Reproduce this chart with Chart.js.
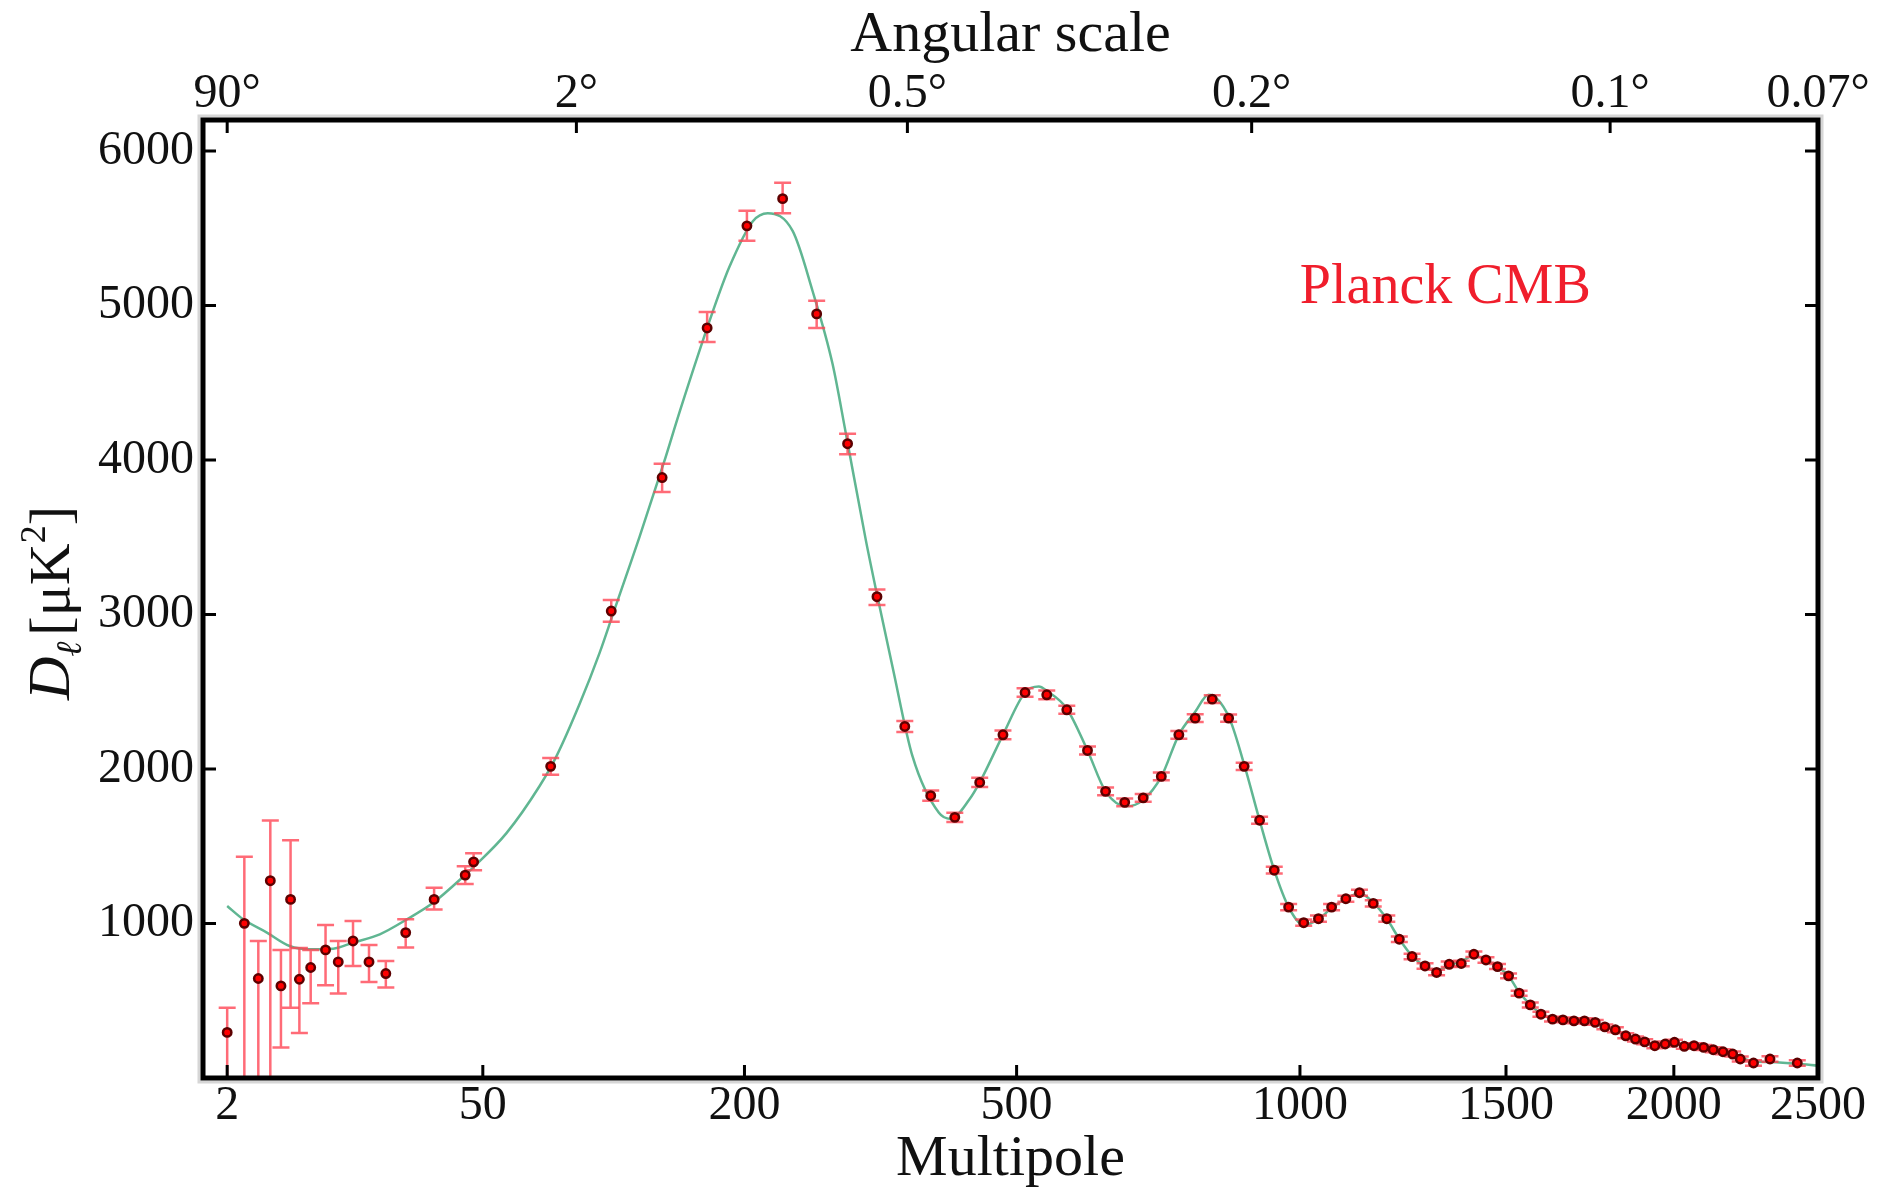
<!DOCTYPE html>
<html>
<head>
<meta charset="utf-8">
<title>Planck CMB</title>
<script src="https://cdn.jsdelivr.net/npm/chart.js@4.4.1/dist/chart.umd.min.js"></script>
<style>
    body { margin: 0; background: #fff; }
    canvas { display: block; }
</style>
</head>
<body>
<canvas id="myChart" width="1879" height="1198"></canvas>
<script>
// binned Planck points: multipole, D_l and the error bar above / below
var ell = [2, 3, 4, 5, 6, 7, 8, 9.4, 11.45, 13.4, 15.9, 18.9, 22.4, 27, 34.5, 44, 46.8, 77.6,
    108.6, 139.6, 171, 202, 232.5, 264, 294.7, 325.8, 357, 387.6, 417.4, 449.6, 481, 512, 543.6,
    573.8, 606, 635, 666.6, 698, 729.6, 761, 791, 823, 854.5, 885, 916, 946, 976, 1008, 1040,
    1069, 1101, 1132, 1164, 1196, 1226, 1257, 1289, 1318, 1350, 1381, 1414, 1446, 1477, 1507,
    1536, 1567, 1597, 1630, 1660, 1692, 1723, 1755, 1784, 1816, 1848, 1878, 1907, 1939, 1972,
    2002, 2034, 2066, 2098, 2130, 2163, 2196, 2222, 2268, 2326, 2424];
var dl = [295, 1001, 644, 1277, 596, 1156, 639, 715, 829, 751, 887, 751, 676, 941, 1156, 1313, 1399, 2017,
    3022, 3886, 4854, 5515, 5691, 4945, 4105, 3115, 2275, 1827, 1687, 1913, 2221, 2495, 2480,
    2383, 2120, 1855, 1784, 1813, 1952, 2221, 2329, 2452, 2329, 2017, 1668, 1345, 1106, 1005, 1031,
    1106, 1160, 1199, 1130, 1031, 898, 786, 725, 683, 736, 741, 801, 764, 721, 661,
    549, 473, 413, 381, 376, 370, 370, 360, 331, 312, 273, 252, 234, 209, 220,
    231, 205, 209, 198, 183, 170, 155, 123, 97, 123, 97];
var errUp = [159, 431, 243, 389, 233, 383, 202, 114, 161, 136, 129, 110, 81, 86, 75, 58, 56, 54,
    71, 90, 103, 97, 103, 85, 65, 47, 36, 33, 30, 30, 28, 28, 28,
    26, 26, 25, 25, 25, 25, 25, 25, 25, 24, 24, 22, 22, 20, 20, 20,
    20, 20, 20, 20, 20, 18, 18, 18, 18, 18, 18, 18, 18, 16, 16,
    16, 16, 16, 16, 16, 16, 16, 16, 16, 16, 16, 16, 16, 16, 16,
    16, 16, 16, 16, 16, 16, 16, 16, 18, 18, 18];
var errDown = [900, 1500, 1000, 1600, 398, 702, 348, 231, 228, 204, 162, 129, 90, 97, 65, 58, 54, 54,
    69, 93, 90, 97, 94, 91, 69, 54, 36, 33, 30, 30, 28, 28, 28,
    26, 26, 25, 25, 25, 25, 25, 25, 25, 24, 24, 22, 22, 20, 20, 20,
    20, 20, 20, 20, 20, 18, 18, 18, 18, 18, 18, 18, 18, 16, 16,
    16, 16, 16, 16, 16, 16, 16, 16, 16, 16, 16, 16, 16, 16, 16,
    16, 16, 16, 16, 16, 16, 16, 16, 18, 18, 18];

// best fit model curve
var modelEll = [2, 2.93, 4.7, 6.9, 9.2, 12.6, 15.9, 21.1, 27.3, 34.2, 44.3, 46.6, 58.8, 72.6, 80.2,
    91.6, 102.1, 109.5, 117.2, 125.2, 141, 151.3, 175.2, 188, 206.9, 219.5, 241.5, 260, 279.5, 293, 313.8,
    325.8, 343, 366, 397.6, 412, 436, 449.6, 481, 512, 532, 543.6, 573.8, 606, 635, 670, 698, 729.6,
    761, 791, 816, 854.5, 885, 916, 946, 976, 1008, 1041, 1069, 1101, 1132, 1164, 1196, 1226, 1257,
    1289, 1318, 1350, 1381, 1414, 1446, 1477, 1507, 1536, 1567, 1597, 1630, 1660, 1692, 1723, 1755,
    1784, 1816, 1848, 1878, 1907, 1939, 1972, 2002, 2034, 2066, 2098, 2130, 2163, 2196, 2222, 2268,
    2326, 2424, 2500];
var modelDl = [1113, 1027, 941, 854, 833, 837, 876, 930, 1027, 1134, 1320, 1362, 1585, 1890, 2080,
    2420, 2750, 3000, 3250, 3500, 3990, 4310, 4960, 5250, 5545, 5597, 5482, 5095, 4622, 4170, 3481,
    3130, 2662, 2081, 1716, 1677, 1802, 1913, 2221, 2495, 2533, 2505, 2390, 2120, 1855, 1758, 1800, 1950,
    2221, 2370, 2480, 2340, 2030, 1668, 1345, 1106, 990, 1030, 1100, 1160, 1195, 1135, 1030, 900, 790,
    722, 695, 730, 755, 792, 765, 720, 660, 555, 475, 415, 383, 372, 368, 366, 356,
    333, 310, 275, 252, 232, 216, 218, 224, 210, 205, 195, 182, 168, 150, 132, 108,
    103, 92, 80];

var xTicks = [2, 50, 200, 500, 1000, 1500, 2000, 2500];
var xTickLabels = ['2', '50', '200', '500', '1000', '1500', '2000', '2500'];
var topTicks = [2, 90, 360, 900, 1800, 2500];
var topTickLabels = ['90°', '2°', '0.5°', '0.2°', '0.1°', '0.07°'];
var yTicks = [1000, 2000, 3000, 4000, 5000, 6000];

var labelText = 'Planck CMB';
var labelEll = 1340;
var labelDl = 5110;

var P = 0.4;
var serif = "'Liberation Serif', 'Times New Roman', serif";
var ink = '#111';

// x axis runs as ell^0.4
class PowerScale extends Chart.LinearScale {
    static id = 'power';
    static defaults = {};
    getPixelForValue(v) {
        var a = Math.pow(this.min, P), b = Math.pow(this.max, P);
        return this.getPixelForDecimal((Math.pow(v, P) - a) / (b - a));
    }
    getValueForPixel(px) {
        var a = Math.pow(this.min, P), b = Math.pow(this.max, P);
        return Math.pow(a + this.getDecimalForPixel(px) * (b - a), 1 / P);
    }
}
Chart.register(PowerScale);

var errorBars = {
    id: 'errorBars',
    beforeDatasetDraw(chart, args) {
        if (args.index !== 0) return;
        var ctx = chart.ctx, a = chart.chartArea, x = chart.scales.x, y = chart.scales.y;
        ctx.save();
        ctx.beginPath();
        ctx.rect(a.left, a.top, a.right - a.left, a.bottom - a.top);
        ctx.clip();
        ctx.strokeStyle = 'rgba(255, 70, 85, 0.8)';
        ctx.lineWidth = 2.5;
        for (let i = 0; i < ell.length; i++) {
            let px = x.getPixelForValue(ell[i]);
            let top = y.getPixelForValue(dl[i] + errUp[i]);
            let bot = y.getPixelForValue(dl[i] - errDown[i]);
            ctx.beginPath();
            ctx.moveTo(px, top); ctx.lineTo(px, bot);
            ctx.moveTo(px - 8.5, top); ctx.lineTo(px + 8.5, top);
            ctx.moveTo(px - 8.5, bot); ctx.lineTo(px + 8.5, bot);
            ctx.stroke();
        }
        ctx.restore();
    }
};

var frame = {
    id: 'frame',
    afterDatasetsDraw(chart) {
        var ctx = chart.ctx, a = chart.chartArea, s = chart.scales;
        var w = a.right - a.left, h = a.bottom - a.top, len = 13;
        ctx.save();
        ctx.strokeStyle = '#d6d6d6';
        ctx.lineWidth = 3;
        ctx.strokeRect(a.left - 4, a.top - 4, w + 8, h + 8);
        ctx.strokeStyle = '#000';
        ctx.lineWidth = 5;
        ctx.strokeRect(a.left, a.top, w, h);
        ctx.lineWidth = 3;
        ctx.beginPath();
        s.x.ticks.forEach(function (t) {
            var px = s.x.getPixelForValue(t.value);
            ctx.moveTo(px, a.bottom); ctx.lineTo(px, a.bottom - len);
        });
        s.top.ticks.forEach(function (t) {
            var px = s.top.getPixelForValue(t.value);
            ctx.moveTo(px, a.top); ctx.lineTo(px, a.top + len);
        });
        s.y.ticks.forEach(function (t) {
            var py = s.y.getPixelForValue(t.value);
            ctx.moveTo(a.left, py); ctx.lineTo(a.left + len, py);
            ctx.moveTo(a.right, py); ctx.lineTo(a.right - len, py);
        });
        ctx.stroke();
        ctx.restore();
    },
    afterDraw(chart) {
        var ctx = chart.ctx, a = chart.chartArea;
        ctx.save();
        // Planck CMB label
        ctx.fillStyle = '#f01e2c';
        ctx.font = '56px ' + serif;
        ctx.textAlign = 'center';
        ctx.textBaseline = 'middle';
        ctx.fillText(labelText, chart.scales.x.getPixelForValue(labelEll), chart.scales.y.getPixelForValue(labelDl));

        // y title: D_l [muK^2], rotated
        var parts = [
            { t: 'D', f: 'italic 60px ' + serif, dy: 0 },
            { t: 'ℓ', f: 'italic 36px ' + serif, dy: 12 },
            { t: '[μK', f: '58px ' + serif, dy: 0 },
            { t: '2', f: '36px ' + serif, dy: -24 },
            { t: ']', f: '58px ' + serif, dy: 0 }
        ];
        var total = 0;
        parts.forEach(function (p) { ctx.font = p.f; p.w = ctx.measureText(p.t).width + (p.t === 'ℓ' ? 6 : 0); total += p.w; });
        ctx.translate(69, (a.top + a.bottom) / 2 + 4);
        ctx.rotate(-Math.PI / 2);
        ctx.fillStyle = ink;
        ctx.textAlign = 'left';
        ctx.textBaseline = 'alphabetic';
        var cx = -total / 2;
        parts.forEach(function (p) {
            ctx.font = p.f;
            ctx.fillText(p.t, cx, p.dy);
            cx += p.w;
        });
        ctx.restore();
    }
};

var tickFont = { family: serif, size: 48 };
var titleFont = { family: serif, size: 58 };

var points = ell.map(function (l, i) { return { x: l, y: dl[i] }; });
var model = modelEll.map(function (l, i) { return { x: l, y: modelDl[i] }; });

window.addEventListener('load', function () {
    var ctx = document.getElementById('myChart').getContext('2d');
    new Chart(ctx, {
        type: 'scatter',
        data: {
            datasets: [{
                label: 'Planck',
                data: points,
                pointRadius: 4.2,
                pointBackgroundColor: '#ff0000',
                pointBorderColor: '#5c0000',
                pointBorderWidth: 2.5,
                showLine: false
            }, {
                label: 'model',
                data: model,
                showLine: true,
                pointRadius: 0,
                borderColor: 'rgb(96, 182, 146)',
                borderWidth: 2.5,
                cubicInterpolationMode: 'monotone',
                fill: false
            }]
        },
        options: {
            responsive: false,
            animation: false,
            devicePixelRatio: 1,
            events: [],
            layout: { padding: { left: 0, right: 61, top: 0, bottom: 0 } },
            plugins: { legend: { display: false }, tooltip: { enabled: false } },
            scales: {
                x: {
                    type: 'power', axis: 'x', position: 'bottom', min: 0.98, max: 2500, bounds: 'data',
                    grid: { display: false, drawTicks: false }, border: { display: false },
                    afterBuildTicks: function (s) { s.ticks = xTicks.map(function (v) { return { value: v }; }); },
                    afterFit: function (s) { s.height = 120; s.paddingLeft = 0; s.paddingRight = 0; },
                    ticks: {
                        autoSkip: false, maxRotation: 0, padding: 0, color: ink, font: tickFont,
                        callback: function (v, i) { return xTickLabels[i]; }
                    },
                    title: { display: true, text: 'Multipole', color: ink, font: titleFont, padding: { top: 0, bottom: 3 } }
                },
                top: {
                    type: 'power', axis: 'x', position: 'top', min: 0.98, max: 2500, bounds: 'data',
                    grid: { display: false, drawTicks: false }, border: { display: false },
                    afterBuildTicks: function (s) { s.ticks = topTicks.map(function (v) { return { value: v }; }); },
                    afterFit: function (s) { s.height = 120; s.paddingLeft = 0; s.paddingRight = 0; },
                    ticks: {
                        autoSkip: false, maxRotation: 0, padding: -3, color: ink, font: tickFont,
                        callback: function (v, i) { return topTickLabels[i]; }
                    },
                    title: { display: true, text: 'Angular scale', color: ink, font: titleFont, padding: { top: 1, bottom: 0 } }
                },
                y: {
                    type: 'linear', position: 'left', min: 0, max: 6200,
                    grid: { display: false, drawTicks: false }, border: { display: false },
                    afterBuildTicks: function (s) { s.ticks = yTicks.map(function (v) { return { value: v }; }); },
                    afterFit: function (s) { s.width = 203; s.paddingTop = 0; s.paddingBottom = 0; },
                    ticks: { padding: 9, color: ink, font: tickFont, callback: function (v) { return String(v); } }
                }
            }
        },
        plugins: [errorBars, frame]
    });
});
</script>
</body>
</html>
